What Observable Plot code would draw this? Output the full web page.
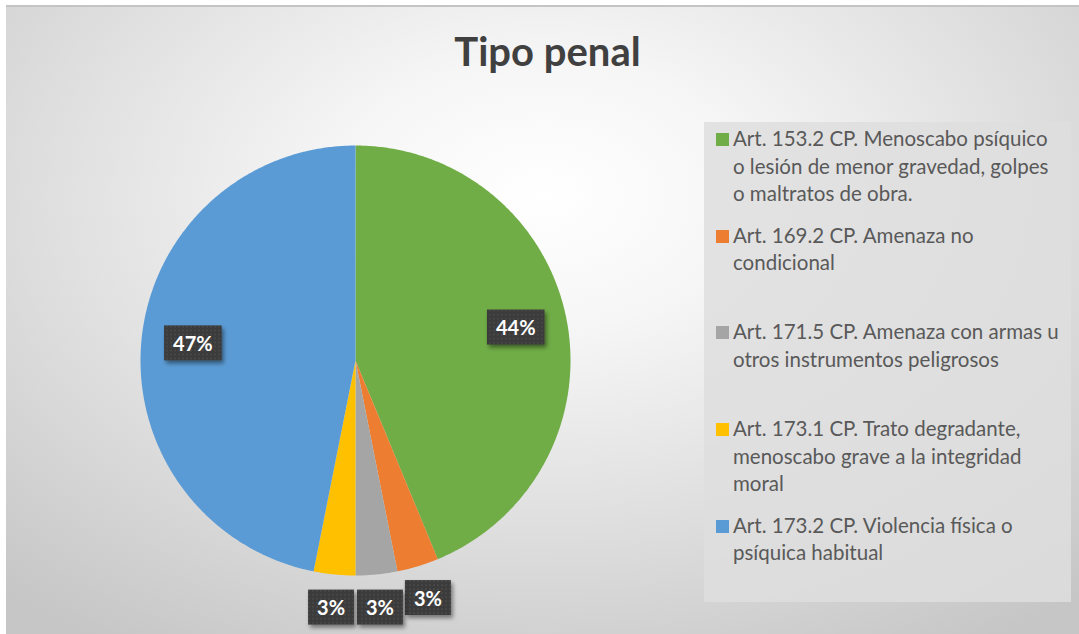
<!DOCTYPE html>
<html>
<head>
<meta charset="utf-8">
<script src="https://cdn.jsdelivr.net/npm/d3@7"></script>
<script src="https://cdn.jsdelivr.net/npm/@observablehq/plot@0.6"></script>
<style>
  html, body { margin: 0; padding: 0; background: #ffffff; }
  body { width: 1079px; height: 634px; position: relative; overflow: hidden; font-family: Lato, "Open Sans", sans-serif; }
  #bg {
    position: absolute; left: 6px; top: 5px; width: 1073px; height: 629px;
    background: radial-gradient(ellipse 75% 85% at 50% 30%, #ffffff 0%, #f6f6f6 25%, #e0e0e0 60%, #c6c6c6 100%);
    border-top: 2px solid #c4c4c4; box-sizing: border-box;
  }
  #title {
    position: absolute; left: 8px; top: 27px; width: 1079px; text-align: center;
    font-family: Lato, sans-serif; font-weight: 700; font-size: 40px; line-height: 48px; color: #404040;
  }
  #chart { position: absolute; left: 0; top: 0; }
  #legend {
    position: absolute; left: 704px; top: 122px; width: 367px; height: 480px;
    background: rgba(222,222,222,0.85);
  }
  .item { position: absolute; left: 12px; width: 352px; font-size: 20.5px; line-height: 27.5px; color: #595959; }
  .item .sw { position: absolute; left: 0; top: 8px; width: 13px; height: 13px; }
  .item .tx { position: absolute; left: 17px; white-space: nowrap; }
</style>
</head>
<body>
<div id="bg"></div>
<div id="title">Tipo penal</div>
<div id="chart"></div>
<div id="legend"></div>
<script>
// ---- data ----
const categories = [
  "Art. 153.2 CP. Menoscabo psíquico o lesión de menor gravedad, golpes o maltratos de obra.",
  "Art. 169.2 CP. Amenaza no condicional",
  "Art. 171.5 CP. Amenaza con armas u otros instrumentos peligrosos",
  "Art. 173.1 CP. Trato degradante, menoscabo grave a la integridad moral",
  "Art. 173.2 CP. Violencia física o psíquica habitual"
];
const counts = [14, 1, 1, 1, 15];
const colors = ["#70AD47", "#ED7D31", "#A5A5A5", "#FFC000", "#5B9BD5"];
const legendLines = [
  ["Art. 153.2 CP. Menoscabo psíquico", "o lesión de menor gravedad, golpes", "o maltratos de obra."],
  ["Art. 169.2 CP. Amenaza no", "condicional"],
  ["Art. 171.5 CP. Amenaza con armas u", "otros instrumentos peligrosos"],
  ["Art. 173.1 CP. Trato degradante,", "menoscabo grave a la integridad", "moral"],
  ["Art. 173.2 CP. Violencia física o", "psíquica habitual"]
];

// ---- pie geometry (unit circle, clockwise from top) ----
const total = d3.sum(counts);
let cum = 0;
const slices = categories.map((c, i) => {
  const a0 = cum / total * 2 * Math.PI;
  cum += counts[i];
  const a1 = cum / total * 2 * Math.PI;
  const share = counts[i] / total;
  const mid = (a0 + a1) / 2;
  const r = share >= 0.05 ? 0.76 : 1.16;
  return { category: c, a0, a1, share, label: Math.round(share * 100) + "%",
           lx: r * Math.sin(mid), ly: r * Math.cos(mid) };
});
const outline = [];
for (const s of slices) {
  outline.push({ category: s.category, x: 0, y: 0 });
  const n = Math.max(2, Math.ceil((s.a1 - s.a0) / (Math.PI / 360)));
  for (let k = 0; k <= n; k++) {
    const a = s.a0 + (s.a1 - s.a0) * k / n;
    outline.push({ category: s.category, x: Math.sin(a), y: Math.cos(a) });
  }
  outline.push({ category: s.category, x: 0, y: 0 });
}

const plot = Plot.plot({
  width: 1079,
  height: 634,
  style: { background: "transparent", fontFamily: "Lato, sans-serif" },
  x: { domain: [-1, 1], range: [140, 570], axis: null },
  y: { domain: [-1, 1], range: [575, 145], axis: null },
  color: { domain: categories, range: colors, legend: false },
  marks: [
    Plot.line(outline, { x: "x", y: "y", z: "category", fill: "category", stroke: "none", curve: "linear" }),
    Plot.text(slices, { x: "lx", y: "ly", text: "label", fill: "white", fontWeight: "bold", fontSize: 20, fontFamily: "Lato, sans-serif" })
  ]
});
document.getElementById("chart").appendChild(plot);

// ---- label boxes (dark dotted boxes with shadow) ----
const svg = d3.select(plot);
const defs = svg.insert("defs", ":first-child");
const pat = defs.append("pattern").attr("id", "dots").attr("width", 4).attr("height", 4).attr("patternUnits", "userSpaceOnUse");
pat.append("rect").attr("width", 4).attr("height", 4).attr("fill", "#3a3a3a");
pat.append("circle").attr("cx", 2).attr("cy", 2).attr("r", 0.9).attr("fill", "#4d4d4d");
const f = defs.append("filter").attr("id", "shadow").attr("x", "-30%").attr("y", "-30%").attr("width", "160%").attr("height", "160%");
f.append("feDropShadow").attr("dx", 2).attr("dy", 3).attr("stdDeviation", 2).attr("flood-color", "#000").attr("flood-opacity", 0.45);
svg.selectAll('g[aria-label="text"] text').each(function () {
  const b = this.getBBox();
  const ctm = this.getAttribute("transform");
  const w = b.width + 18, h = 35;
  const rect = document.createElementNS("http://www.w3.org/2000/svg", "rect");
  rect.setAttribute("x", b.x + b.width / 2 - w / 2);
  rect.setAttribute("y", b.y + b.height / 2 - h / 2);
  rect.setAttribute("width", w);
  rect.setAttribute("height", h);
  rect.setAttribute("fill", "url(#dots)");
  rect.setAttribute("filter", "url(#shadow)");
  if (ctm) rect.setAttribute("transform", ctm);
  this.parentNode.insertBefore(rect, this);
});

// ---- legend ----
const legend = document.getElementById("legend");
legendLines.forEach((lines, i) => {
  const it = document.createElement("div");
  it.className = "item";
  it.style.top = (3 + i * 96.7) + "px";
  const sw = document.createElement("div");
  sw.className = "sw";
  sw.style.background = colors[i];
  const tx = document.createElement("div");
  tx.className = "tx";
  tx.innerHTML = lines.join("<br>");
  it.appendChild(sw); it.appendChild(tx);
  legend.appendChild(it);
});
</script>
</body>
</html>
